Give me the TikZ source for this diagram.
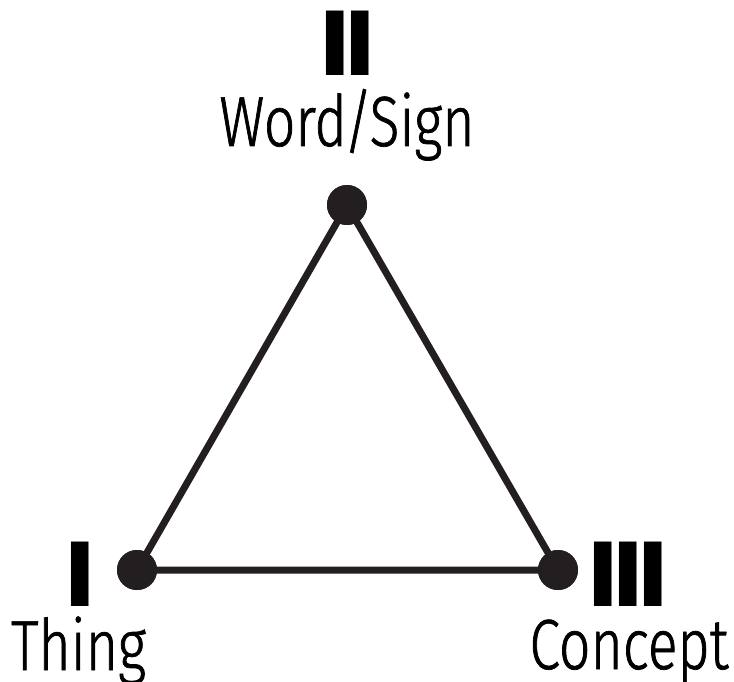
\documentclass[tikz,border=0pt]{standalone}
\usepackage{fontspec}
\newfontfamily\wordfont[FakeStretch=0.78,FakeBold=1]{Fira Sans Light}
\newfontfamily\numfont[FakeStretch=1.15]{Fira Sans Bold}
\definecolor{ink}{RGB}{35,31,32}
\begin{document}
\begin{tikzpicture}[x=1pt,y=-1pt,
  vertex/.style={circle,fill=ink,inner sep=0pt,minimum size=40pt},
  edge/.style={draw=ink,line width=7pt},
  word/.style={anchor=base,inner sep=0pt,text height=50pt,text depth=11pt,font=\wordfont\fontsize{71}{71}\selectfont},
  numeral/.style={anchor=base,inner sep=0pt,text height=64pt,text depth=0pt,font=\numfont\fontsize{93}{93}\selectfont}]
\useasboundingbox (0,0) rectangle (734,682);
\node[vertex] (w) at (347,205) {};
\node[vertex] (t) at (137,570) {};
\node[vertex] (c) at (558,570) {};
\draw[edge] (w.center) -- (t.center) -- (c.center) -- cycle;
\node[vertex] at (w) {};
\node[vertex] at (t) {};
\node[vertex] at (c) {};
\node[word] (wl) at (347,146) {Word\kern-3pt/\kern-3pt Sign};
\node[word] (tl) at (78.5,670) {Thing};
\node[word] (cl) at (629,669) {Concept};
\node[numeral] (wn) at (347.5,76) {I\kern-6pt I};
\node[numeral] (tn) at (80,606) {I};
\node[numeral] (cn) at (628,606) {I\kern-6pt I\kern-6pt I};
\end{tikzpicture}
\end{document}
